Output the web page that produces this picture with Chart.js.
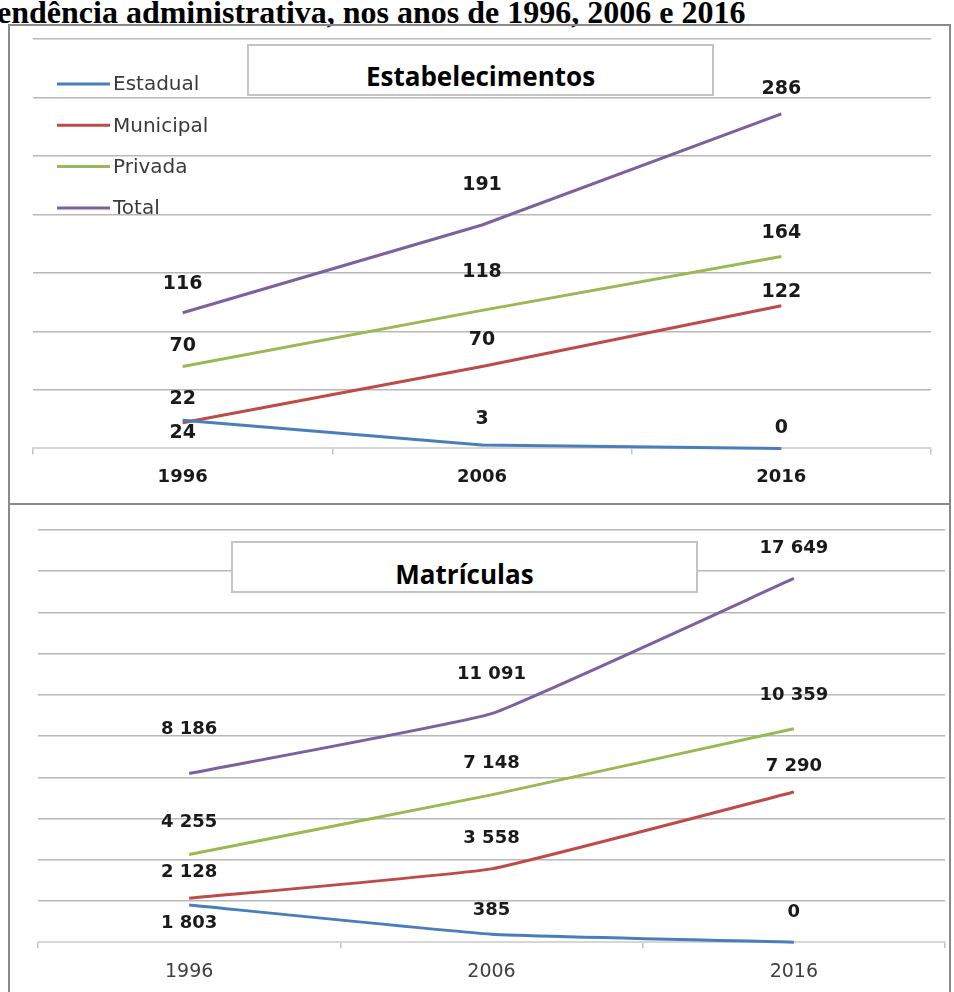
<!DOCTYPE html>
<html lang="pt">
<head>
<meta charset="utf-8">
<title>Estabelecimentos e matrículas por dependência administrativa</title>
<script src="https://cdn.jsdelivr.net/npm/chart.js@4"></script>
<style>
  html, body { margin: 0; padding: 0; background: #fff; overflow: hidden; }
  body { position: relative; width: 954px; height: 992px; }
  .heading {
    position: absolute; left: -3px; top: -4px; white-space: nowrap;
    font: bold 32px/32px "Liberation Serif", "Times New Roman", serif; color: #000;
  }
  .panel { position: absolute; border: 2px solid #8a8a8a; box-sizing: border-box; pointer-events: none; z-index: 3; }
  canvas { position: absolute; left: 0; }
  .tbox {
    position: absolute; z-index: 2; background: #fff; border: 2px solid #c4c4c4; box-sizing: border-box;
    text-align: center; font: bold 26px/52px "Open Sans", sans-serif; color: #000;
  }
  .tbox span { position: relative; }
</style>
</head>
<body>
<div class="heading">endência administrativa, nos anos de 1996, 2006 e 2016</div>

<canvas id="estab" width="954" height="504" style="top:0"></canvas>
<canvas id="matr" width="954" height="500" style="top:504px"></canvas>

<div class="tbox" style="left:247px; top:44px; width:467px; height:52px;"><span style="top:4px">Estabelecimentos</span></div>
<div class="tbox" style="left:231px; top:541px; width:467px; height:52px;"><span style="top:5px">Matrículas</span></div>

<div class="panel" style="left:8px; top:24px; width:943px; height:481px;"></div>
<div class="panel" style="left:8px; top:503px; width:943px; height:520px;"></div>

<script>
// years on the x axis and series names
const years = ["1996", "2006", "2016"];
const seriesNames = ["Estadual", "Municipal", "Privada", "Total"];
const seriesColors = ["#4a7ebb", "#be4b48", "#98b954", "#7d60a0"];

// number of schools
const estabEstadual = [24, 3, 0];
const estabMunicipal = [22, 70, 122];
const estabPrivada = [70, 118, 164];
const estabTotal = [116, 191, 286];

// enrolments
const matrEstadual = [1803, 385, 0];
const matrMunicipal = [2128, 3558, 7290];
const matrPrivada = [4255, 7148, 10359];
const matrTotal = [8186, 11091, 17649];

// how far above each point its value label sits (negative = below)
const estabLabelOffsets = [[-13, 26, 20], [24, 26, 14], [20, 38, 24], [29, 40, 25]];
const matrLabelOffsets = [[-18, 24, 30], [26, 31, 26], [32, 32, 33], [44, 39, 30]];

const fmt = (v) => String(v).replace(/\B(?=(\d{3})+(?!\d))/g, " ");

// value labels over each point
const pointLabels = {
  id: "pointLabels",
  afterDatasetsDraw(chart, args, opts) {
    const ctx = chart.ctx;
    ctx.save();
    ctx.font = opts.font;
    ctx.fillStyle = "#1a1a1a";
    ctx.textAlign = "center";
    ctx.textBaseline = "middle";
    chart.data.datasets.forEach((ds, i) => {
      chart.getDatasetMeta(i).data.forEach((pt, j) => {
        ctx.fillText(fmt(ds.data[j]), pt.x, pt.y - opts.offsets[i][j]);
      });
    });
    ctx.restore();
  }
};

// stacked legend in the upper left of the plot
const cornerLegend = {
  id: "cornerLegend",
  afterDraw(chart, args, opts) {
    if (!opts.show) return;
    const ctx = chart.ctx;
    ctx.save();
    ctx.font = '20px "DejaVu Sans", sans-serif';
    ctx.textBaseline = "middle";
    ctx.fillStyle = "#3a3a3a";
    chart.data.datasets.forEach((ds, i) => {
      const y = 84 + i * 41.3;
      ctx.strokeStyle = ds.borderColor;
      ctx.lineWidth = 3;
      ctx.beginPath();
      ctx.moveTo(57, y);
      ctx.lineTo(110, y);
      ctx.stroke();
      ctx.fillText(ds.label, 113, y + 1);
    });
    ctx.restore();
  }
};

function makeDatasets(values, tension) {
  return values.map((data, i) => ({
    label: seriesNames[i],
    data: data,
    borderColor: seriesColors[i],
    backgroundColor: seriesColors[i],
    borderWidth: 3,
    pointRadius: 0,
    tension: tension,
    clip: false
  }));
}

function makeChart(id, values, cfg) {
  return new Chart(document.getElementById(id), {
    type: "line",
    data: { labels: years, datasets: makeDatasets(values, cfg.tension) },
    options: {
      responsive: false,
      animation: false,
      events: [],
      layout: { padding: cfg.padding },
      plugins: {
        legend: { display: false },
        tooltip: { enabled: false },
        pointLabels: { offsets: cfg.offsets, font: cfg.labelFont },
        cornerLegend: { show: cfg.legend }
      },
      scales: {
        x: {
          offset: true,
          grid: { offset: true, drawOnChartArea: false, drawTicks: true, tickLength: 6, color: "#c4c4c4", lineWidth: 1.5 },
          border: { display: true, color: "#d6d6d6", width: 2 },
          ticks: { padding: 12, color: cfg.tickColor, font: cfg.tickFont }
        },
        y: {
          min: 0,
          max: cfg.max,
          ticks: { display: false, stepSize: cfg.step },
          grid: {
            drawTicks: false,
            lineWidth: 1.5,
            color: (c) => (c.tick.value === 0 ? "rgba(0,0,0,0)" : "#b8b8b8")
          },
          border: { display: false }
        }
      }
    },
    plugins: [pointLabels, cornerLegend]
  });
}

makeChart("estab", [estabEstadual, estabMunicipal, estabPrivada, estabTotal], {
  max: 350, step: 50, tension: 0,
  padding: { left: 33, right: 23, top: 39, bottom: 4 },
  offsets: estabLabelOffsets,
  labelFont: 'bold 19px "DejaVu Sans", sans-serif',
  tickFont: { family: "DejaVu Sans", size: 18, weight: "bold" },
  tickColor: "#1a1a1a",
  legend: true
});

makeChart("matr", [matrEstadual, matrMunicipal, matrPrivada, matrTotal], {
  max: 20000, step: 2000, tension: 0.1,
  padding: { left: 38, right: 9, top: 26, bottom: 9 },
  offsets: matrLabelOffsets,
  labelFont: 'bold 18px "DejaVu Sans", sans-serif',
  tickFont: { family: "DejaVu Sans", size: 19 },
  tickColor: "#404040",
  legend: false
});
</script>
</body>
</html>
